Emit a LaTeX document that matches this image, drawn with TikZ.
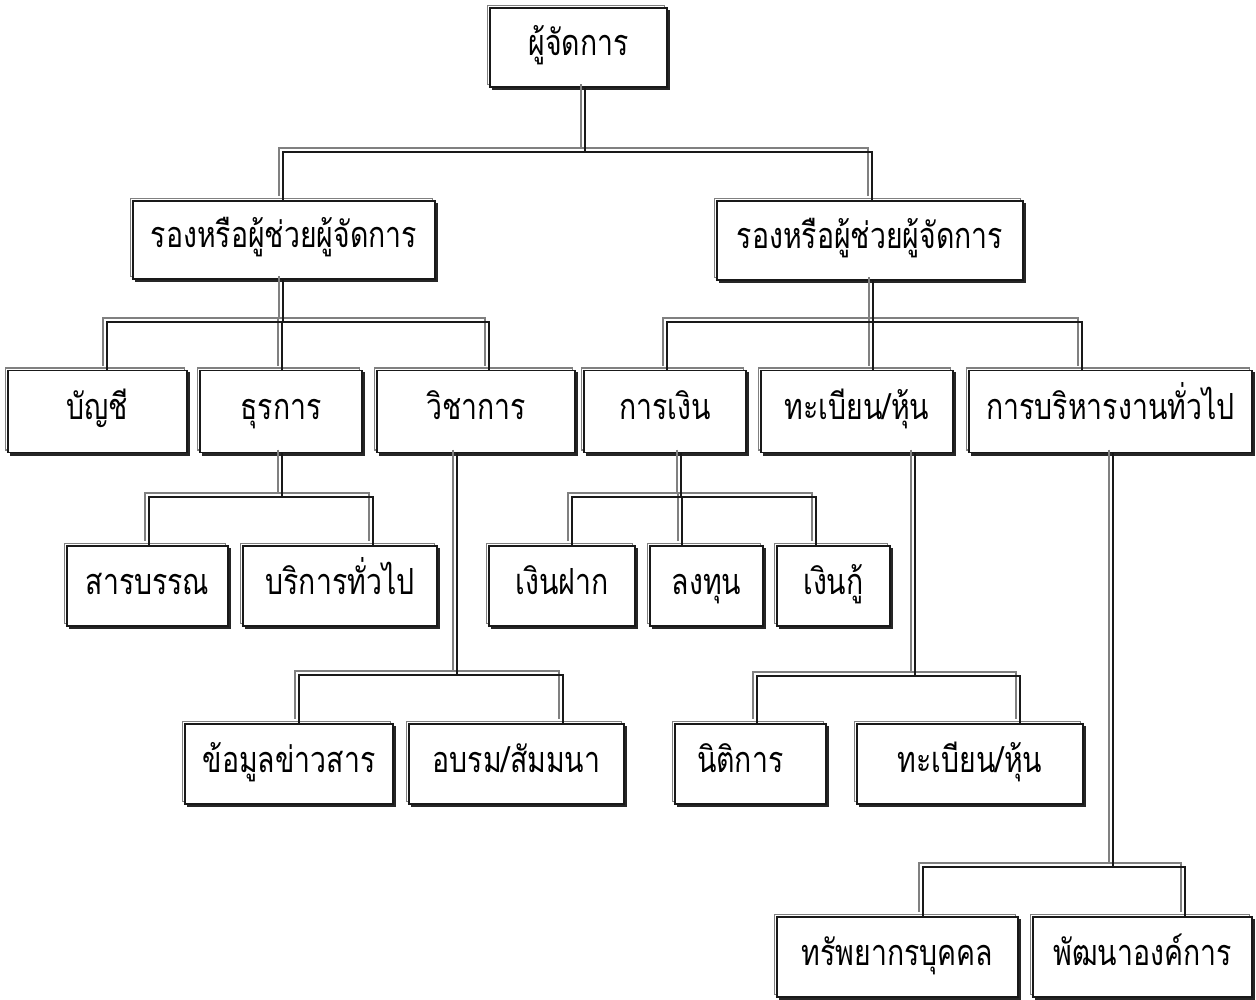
\documentclass[tikz,border=0pt]{standalone}
\usepackage{fontspec}
\newfontfamily\thaifont[Script=Thai, FakeStretch=0.79]{Loma}
\begin{document}
\begin{tikzpicture}[x=1pt,y=-1pt,
  box/.style={draw=black!90, line width=1.7pt, fill=white, inner sep=0pt,
    text height=16pt, text depth=0pt,
    font=\thaifont\fontsize{36pt}{40pt}\selectfont,
    preaction={draw=black!50, line width=1.5pt, transform canvas={shift={(-2.5pt,2.5pt)}}},
    preaction={fill=black!85, draw=black!85, line width=1.7pt, transform canvas={shift={(2.6pt,-2.6pt)}}}},
  wire/.style={draw=black!90, line width=2.5pt}]
\useasboundingbox (0,0) rectangle (1256,1000);

% level 1
\node[box, minimum width=177pt, minimum height=79pt] (top) at (578.5,47.5) {ผู้จัดการ};
% level 2
\node[box, minimum width=302pt, minimum height=78pt] (mgrL) at (284,240) {รองหรือผู้ช่วยผู้จัดการ};
\node[box, minimum width=306pt, minimum height=79pt] (mgrR) at (870,240.5) {รองหรือผู้ช่วยผู้จัดการ};
% level 3
\node[box, minimum width=179pt, minimum height=82pt] (acct)  at (97.5,411.5) {บัญชี};
\node[box, minimum width=162pt, minimum height=82pt] (admin) at (281,411.5) {ธุรการ};
\node[box, minimum width=198pt, minimum height=82pt] (acad)  at (476,411.5) {วิชาการ};
\node[box, minimum width=162pt, minimum height=82pt] (fin)   at (665,411.5) {การเงิน};
\node[box, minimum width=192pt, minimum height=82pt] (reg)   at (857,411.5) {ทะเบียน/หุ้น};
\node[box, minimum width=283pt, minimum height=82pt] (gen)   at (1110.5,411.5) {การบริหารงานทั่วไป};
% level 4
\node[box, minimum width=161pt, minimum height=80pt] (saraban) at (147.5,586) {สารบรรณ};
\node[box, minimum width=194pt, minimum height=80pt] (service) at (340,586) {บริการทั่วไป};
\node[box, minimum width=146pt, minimum height=80pt] (deposit) at (562,586) {เงินฝาก};
\node[box, minimum width=113pt, minimum height=80pt] (invest)  at (706.5,586) {ลงทุน};
\node[box, minimum width=113pt, minimum height=80pt] (loan)    at (833.5,586) {เงินกู้};
% level 5
\node[box, minimum width=208pt, minimum height=80pt] (info)  at (289,764) {ข้อมูลข่าวสาร};
\node[box, minimum width=215pt, minimum height=80pt] (train) at (516.5,764) {อบรม/สัมมนา};
\node[box, minimum width=151pt, minimum height=80pt, text width=107pt, align=left] (legal) at (750.5,764) {นิติการ};
\node[box, minimum width=226pt, minimum height=80pt] (reg2)  at (970,764) {ทะเบียน/หุ้น};
% level 6
\node[box, minimum width=241pt, minimum height=80pt] (hr) at (897.5,957) {ทรัพยากรบุคคล};
\node[box, minimum width=219pt, minimum height=80pt] (od) at (1142.5,957) {พัฒนาองค์การ};

% bus junctions
\coordinate (j0) at (585,152);
\coordinate (j1) at (283,322);
\coordinate (j2) at (873,322);
\coordinate (j3) at (282,497);
\coordinate (j4) at (457,675);
\coordinate (j5) at (681,497);
\coordinate (j6) at (915,676);
\coordinate (j7) at (1113,867);

\newcommand\orgwires{%
  \draw[wire] (top.south -| j0) -- (j0);
  \draw[wire] (j0) -| ([xshift=-1pt]mgrL.north);
  \draw[wire] (j0) -| ([xshift=2pt]mgrR.north);
  \draw[wire] (mgrL.south -| j1) -- (j1);
  \draw[wire] (j1) -| ([xshift=9.5pt]acct.north);
  \draw[wire] (j1) -| ([xshift=1pt]admin.north);
  \draw[wire] (j1) -| ([xshift=13pt]acad.north);
  \draw[wire] (mgrR.south -| j2) -- (j2);
  \draw[wire] (j2) -| ([xshift=2pt]fin.north);
  \draw[wire] (j2) -| ([xshift=16pt]reg.north);
  \draw[wire] (j2) -| ([xshift=-28.5pt]gen.north);
  \draw[wire] (admin.south -| j3) -- (j3);
  \draw[wire] (j3) -| ([xshift=1.5pt]saraban.north);
  \draw[wire] (j3) -| ([xshift=33pt]service.north);
  \draw[wire] (acad.south -| j4) -- (j4);
  \draw[wire] (j4) -| ([xshift=10pt]info.north);
  \draw[wire] (j4) -| ([xshift=46.5pt]train.north);
  \draw[wire] (fin.south -| j5) -- (j5);
  \draw[wire] (j5) -| ([xshift=10pt]deposit.north);
  \draw[wire] (j5) -| ([xshift=-24.5pt]invest.north);
  \draw[wire] (j5) -| ([xshift=-17.5pt]loan.north);
  \draw[wire] (reg.south -| j6) -- (j6);
  \draw[wire] (j6) -| ([xshift=6.5pt]legal.north);
  \draw[wire] (j6) -| ([xshift=50pt]reg2.north);
  \draw[wire] (gen.south -| j7) -- (j7);
  \draw[wire] (j7) -| ([xshift=25.5pt]hr.north);
  \draw[wire] (j7) -| ([xshift=42.5pt]od.north);
}

% grey highlight of every connector, then the black line itself
\begin{scope}[transform canvas={shift={(-3.8pt,3.8pt)}}, wire/.style={draw=black!50, line width=2.3pt}]
  \orgwires
\end{scope}
\orgwires
\end{tikzpicture}
\end{document}
